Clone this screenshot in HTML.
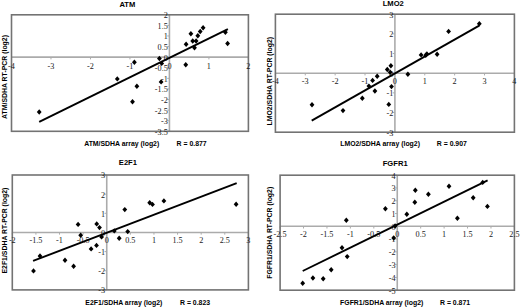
<!DOCTYPE html>
<html><head><meta charset="utf-8"><title>Scatter plots</title>
<style>
html,body{margin:0;padding:0;background:#fff;}
body{width:520px;height:307px;overflow:hidden;}
svg{display:block;}
.fr{fill:none;stroke:#737373;stroke-width:1.6;}
.ax{stroke:#ababab;stroke-width:1.6;}
.tk{stroke:#ababab;stroke-width:1;}
.rl{stroke:#000;stroke-width:1.9;stroke-linecap:butt;}
.tl{font-family:"Liberation Serif",serif;font-size:8.2px;fill:#1a1a1a;}
.tt{font-family:"Liberation Sans",sans-serif;font-weight:bold;font-size:7.6px;fill:#000;}
.at{font-family:"Liberation Sans",sans-serif;font-weight:bold;font-size:6.9px;fill:#000;}
path{fill:#000;}
</style></head>
<body><svg width="520" height="307" viewBox="0 0 520 307">
<line x1="11.50" y1="57.16" x2="248.40" y2="57.16" class="ax"/>
<line x1="169.43" y1="14.80" x2="169.43" y2="131.30" class="ax"/>
<line x1="11.50" y1="57.16" x2="11.50" y2="59.36" class="tk"/>
<line x1="50.98" y1="57.16" x2="50.98" y2="59.36" class="tk"/>
<line x1="90.47" y1="57.16" x2="90.47" y2="59.36" class="tk"/>
<line x1="129.95" y1="57.16" x2="129.95" y2="59.36" class="tk"/>
<line x1="169.43" y1="57.16" x2="169.43" y2="59.36" class="tk"/>
<line x1="208.92" y1="57.16" x2="208.92" y2="59.36" class="tk"/>
<line x1="248.40" y1="57.16" x2="248.40" y2="59.36" class="tk"/>
<line x1="167.23" y1="131.30" x2="169.43" y2="131.30" class="tk"/>
<line x1="167.23" y1="120.71" x2="169.43" y2="120.71" class="tk"/>
<line x1="167.23" y1="110.12" x2="169.43" y2="110.12" class="tk"/>
<line x1="167.23" y1="99.53" x2="169.43" y2="99.53" class="tk"/>
<line x1="167.23" y1="88.94" x2="169.43" y2="88.94" class="tk"/>
<line x1="167.23" y1="78.35" x2="169.43" y2="78.35" class="tk"/>
<line x1="167.23" y1="67.75" x2="169.43" y2="67.75" class="tk"/>
<line x1="167.23" y1="57.16" x2="169.43" y2="57.16" class="tk"/>
<line x1="167.23" y1="46.57" x2="169.43" y2="46.57" class="tk"/>
<line x1="167.23" y1="35.98" x2="169.43" y2="35.98" class="tk"/>
<line x1="167.23" y1="25.39" x2="169.43" y2="25.39" class="tk"/>
<line x1="167.23" y1="14.80" x2="169.43" y2="14.80" class="tk"/>
<rect x="11.50" y="14.80" width="236.90" height="116.50" class="fr"/>
<text x="11.50" y="69.26" class="tl" text-anchor="middle">-4</text>
<text x="50.98" y="69.26" class="tl" text-anchor="middle">-3</text>
<text x="90.47" y="69.26" class="tl" text-anchor="middle">-2</text>
<text x="129.95" y="69.26" class="tl" text-anchor="middle">-1</text>
<text x="169.43" y="69.26" class="tl" text-anchor="middle">0</text>
<text x="208.92" y="69.26" class="tl" text-anchor="middle">1</text>
<text x="248.40" y="69.26" class="tl" text-anchor="middle">2</text>
<text x="167.83" y="134.70" class="tl" text-anchor="end">-3.5</text>
<text x="167.83" y="124.11" class="tl" text-anchor="end">-3</text>
<text x="167.83" y="113.52" class="tl" text-anchor="end">-2.5</text>
<text x="167.83" y="102.93" class="tl" text-anchor="end">-2</text>
<text x="167.83" y="92.34" class="tl" text-anchor="end">-1.5</text>
<text x="167.83" y="81.75" class="tl" text-anchor="end">-1</text>
<text x="167.83" y="71.15" class="tl" text-anchor="end">-0.5</text>
<text x="167.83" y="60.56" class="tl" text-anchor="end">0</text>
<text x="167.83" y="49.97" class="tl" text-anchor="end">0.5</text>
<text x="167.83" y="39.38" class="tl" text-anchor="end">1</text>
<text x="167.83" y="28.79" class="tl" text-anchor="end">1.5</text>
<text x="167.83" y="18.20" class="tl" text-anchor="end">2</text>
<line x1="39.20" y1="121.80" x2="227.90" y2="29.10" class="rl"/>
<path d="M39.20 109.30L41.60 112.00L39.20 114.70L36.80 112.00Z"/>
<path d="M117.30 76.20L119.70 78.90L117.30 81.60L114.90 78.90Z"/>
<path d="M134.40 59.60L136.80 62.30L134.40 65.00L132.00 62.30Z"/>
<path d="M136.90 83.60L139.30 86.30L136.90 89.00L134.50 86.30Z"/>
<path d="M132.50 99.00L134.90 101.70L132.50 104.40L130.10 101.70Z"/>
<path d="M159.40 55.80L161.80 58.50L159.40 61.20L157.00 58.50Z"/>
<path d="M161.70 60.70L164.10 63.40L161.70 66.10L159.30 63.40Z"/>
<path d="M161.10 79.20L163.50 81.90L161.10 84.60L158.70 81.90Z"/>
<path d="M185.75 62.00L188.15 64.70L185.75 67.40L183.35 64.70Z"/>
<path d="M186.10 41.50L188.50 44.20L186.10 46.90L183.70 44.20Z"/>
<path d="M190.90 31.00L193.30 33.70L190.90 36.40L188.50 33.70Z"/>
<path d="M192.70 38.30L195.10 41.00L192.70 43.70L190.30 41.00Z"/>
<path d="M194.50 45.00L196.90 47.70L194.50 50.40L192.10 47.70Z"/>
<path d="M196.10 38.30L198.50 41.00L196.10 43.70L193.70 41.00Z"/>
<path d="M197.80 33.10L200.20 35.80L197.80 38.50L195.40 35.80Z"/>
<path d="M200.20 28.80L202.60 31.50L200.20 34.20L197.80 31.50Z"/>
<path d="M203.10 25.10L205.50 27.80L203.10 30.50L200.70 27.80Z"/>
<path d="M225.40 29.50L227.80 32.20L225.40 34.90L223.00 32.20Z"/>
<path d="M227.60 40.80L230.00 43.50L227.60 46.20L225.20 43.50Z"/>
<text x="127.40" y="6.60" class="tt" text-anchor="middle">ATM</text>
<text class="at" text-anchor="middle" transform="translate(4.60 77.00) rotate(-90)" y="2.4">ATM/SDHA RT-PCR (log2)</text>
<text x="84.20" y="145.80" class="at">ATM/SDHA array (log2)</text>
<text x="176.60" y="145.80" class="at">R = 0.877</text>
<line x1="275.40" y1="73.20" x2="514.40" y2="73.20" class="ax"/>
<line x1="394.90" y1="14.20" x2="394.90" y2="132.20" class="ax"/>
<line x1="275.40" y1="73.20" x2="275.40" y2="75.40" class="tk"/>
<line x1="305.27" y1="73.20" x2="305.27" y2="75.40" class="tk"/>
<line x1="335.15" y1="73.20" x2="335.15" y2="75.40" class="tk"/>
<line x1="365.02" y1="73.20" x2="365.02" y2="75.40" class="tk"/>
<line x1="394.90" y1="73.20" x2="394.90" y2="75.40" class="tk"/>
<line x1="424.77" y1="73.20" x2="424.77" y2="75.40" class="tk"/>
<line x1="454.65" y1="73.20" x2="454.65" y2="75.40" class="tk"/>
<line x1="484.52" y1="73.20" x2="484.52" y2="75.40" class="tk"/>
<line x1="514.40" y1="73.20" x2="514.40" y2="75.40" class="tk"/>
<line x1="392.70" y1="132.20" x2="394.90" y2="132.20" class="tk"/>
<line x1="392.70" y1="112.53" x2="394.90" y2="112.53" class="tk"/>
<line x1="392.70" y1="92.87" x2="394.90" y2="92.87" class="tk"/>
<line x1="392.70" y1="73.20" x2="394.90" y2="73.20" class="tk"/>
<line x1="392.70" y1="53.53" x2="394.90" y2="53.53" class="tk"/>
<line x1="392.70" y1="33.87" x2="394.90" y2="33.87" class="tk"/>
<line x1="392.70" y1="14.20" x2="394.90" y2="14.20" class="tk"/>
<rect x="275.40" y="14.20" width="239.00" height="118.00" class="fr"/>
<text x="275.40" y="83.80" class="tl" text-anchor="middle">-4</text>
<text x="305.27" y="83.80" class="tl" text-anchor="middle">-3</text>
<text x="335.15" y="83.80" class="tl" text-anchor="middle">-2</text>
<text x="365.02" y="83.80" class="tl" text-anchor="middle">-1</text>
<text x="394.90" y="83.80" class="tl" text-anchor="middle">0</text>
<text x="424.77" y="83.80" class="tl" text-anchor="middle">1</text>
<text x="454.65" y="83.80" class="tl" text-anchor="middle">2</text>
<text x="484.52" y="83.80" class="tl" text-anchor="middle">3</text>
<text x="514.40" y="83.80" class="tl" text-anchor="middle">4</text>
<text x="393.30" y="135.60" class="tl" text-anchor="end">-3</text>
<text x="393.30" y="115.93" class="tl" text-anchor="end">-2</text>
<text x="393.30" y="96.27" class="tl" text-anchor="end">-1</text>
<text x="393.30" y="76.60" class="tl" text-anchor="end">0</text>
<text x="393.30" y="56.93" class="tl" text-anchor="end">1</text>
<text x="393.30" y="37.27" class="tl" text-anchor="end">2</text>
<text x="393.30" y="17.60" class="tl" text-anchor="end">3</text>
<line x1="311.70" y1="120.60" x2="479.20" y2="25.60" class="rl"/>
<path d="M312.00 102.00L314.40 104.70L312.00 107.40L309.60 104.70Z"/>
<path d="M343.00 107.90L345.40 110.60L343.00 113.30L340.60 110.60Z"/>
<path d="M362.30 95.60L364.70 98.30L362.30 101.00L359.90 98.30Z"/>
<path d="M368.90 83.40L371.30 86.10L368.90 88.80L366.50 86.10Z"/>
<path d="M372.60 77.70L375.00 80.40L372.60 83.10L370.20 80.40Z"/>
<path d="M374.90 88.30L377.30 91.00L374.90 93.70L372.50 91.00Z"/>
<path d="M377.20 73.60L379.60 76.30L377.20 79.00L374.80 76.30Z"/>
<path d="M387.30 66.80L389.70 69.50L387.30 72.20L384.90 69.50Z"/>
<path d="M390.20 69.60L392.60 72.30L390.20 75.00L387.80 72.30Z"/>
<path d="M390.90 63.00L393.30 65.70L390.90 68.40L388.50 65.70Z"/>
<path d="M391.50 83.90L393.90 86.60L391.50 89.30L389.10 86.60Z"/>
<path d="M388.80 101.70L391.20 104.40L388.80 107.10L386.40 104.40Z"/>
<path d="M407.90 71.60L410.30 74.30L407.90 77.00L405.50 74.30Z"/>
<path d="M421.10 52.20L423.50 54.90L421.10 57.60L418.70 54.90Z"/>
<path d="M425.75 52.50L428.15 55.20L425.75 57.90L423.35 55.20Z"/>
<path d="M426.90 51.20L429.30 53.90L426.90 56.60L424.50 53.90Z"/>
<path d="M437.10 51.60L439.50 54.30L437.10 57.00L434.70 54.30Z"/>
<path d="M448.60 28.70L451.00 31.40L448.60 34.10L446.20 31.40Z"/>
<path d="M479.30 21.10L481.70 23.80L479.30 26.50L476.90 23.80Z"/>
<text x="393.30" y="6.20" class="tt" text-anchor="middle">LMO2</text>
<text class="at" text-anchor="middle" transform="translate(269.20 81.20) rotate(-90)" y="2.4">LMO2/SDHA RT-PCR (log2)</text>
<text x="340.20" y="146.20" class="at">LMO2/SDHA array (log2)</text>
<text x="436.80" y="146.20" class="at">R = 0.907</text>
<line x1="12.30" y1="232.45" x2="248.40" y2="232.45" class="ax"/>
<line x1="106.74" y1="175.00" x2="106.74" y2="289.90" class="ax"/>
<line x1="12.30" y1="232.45" x2="12.30" y2="234.65" class="tk"/>
<line x1="35.91" y1="232.45" x2="35.91" y2="234.65" class="tk"/>
<line x1="59.52" y1="232.45" x2="59.52" y2="234.65" class="tk"/>
<line x1="83.13" y1="232.45" x2="83.13" y2="234.65" class="tk"/>
<line x1="106.74" y1="232.45" x2="106.74" y2="234.65" class="tk"/>
<line x1="130.35" y1="232.45" x2="130.35" y2="234.65" class="tk"/>
<line x1="153.96" y1="232.45" x2="153.96" y2="234.65" class="tk"/>
<line x1="177.57" y1="232.45" x2="177.57" y2="234.65" class="tk"/>
<line x1="201.18" y1="232.45" x2="201.18" y2="234.65" class="tk"/>
<line x1="224.79" y1="232.45" x2="224.79" y2="234.65" class="tk"/>
<line x1="248.40" y1="232.45" x2="248.40" y2="234.65" class="tk"/>
<line x1="104.54" y1="289.90" x2="106.74" y2="289.90" class="tk"/>
<line x1="104.54" y1="270.75" x2="106.74" y2="270.75" class="tk"/>
<line x1="104.54" y1="251.60" x2="106.74" y2="251.60" class="tk"/>
<line x1="104.54" y1="232.45" x2="106.74" y2="232.45" class="tk"/>
<line x1="104.54" y1="213.30" x2="106.74" y2="213.30" class="tk"/>
<line x1="104.54" y1="194.15" x2="106.74" y2="194.15" class="tk"/>
<line x1="104.54" y1="175.00" x2="106.74" y2="175.00" class="tk"/>
<rect x="12.30" y="175.00" width="236.10" height="114.90" class="fr"/>
<text x="12.30" y="243.45" class="tl" text-anchor="middle">-2</text>
<text x="35.91" y="243.45" class="tl" text-anchor="middle">-1.5</text>
<text x="59.52" y="243.45" class="tl" text-anchor="middle">-1</text>
<text x="83.13" y="243.45" class="tl" text-anchor="middle">-0.5</text>
<text x="106.74" y="243.45" class="tl" text-anchor="middle">0</text>
<text x="130.35" y="243.45" class="tl" text-anchor="middle">0.5</text>
<text x="153.96" y="243.45" class="tl" text-anchor="middle">1</text>
<text x="177.57" y="243.45" class="tl" text-anchor="middle">1.5</text>
<text x="201.18" y="243.45" class="tl" text-anchor="middle">2</text>
<text x="224.79" y="243.45" class="tl" text-anchor="middle">2.5</text>
<text x="248.40" y="243.45" class="tl" text-anchor="middle">3</text>
<text x="105.14" y="293.30" class="tl" text-anchor="end">-3</text>
<text x="105.14" y="274.15" class="tl" text-anchor="end">-2</text>
<text x="105.14" y="255.00" class="tl" text-anchor="end">-1</text>
<text x="105.14" y="235.85" class="tl" text-anchor="end">0</text>
<text x="105.14" y="216.70" class="tl" text-anchor="end">1</text>
<text x="105.14" y="197.55" class="tl" text-anchor="end">2</text>
<text x="105.14" y="178.40" class="tl" text-anchor="end">3</text>
<line x1="33.10" y1="260.90" x2="236.70" y2="183.10" class="rl"/>
<path d="M33.50 268.20L35.90 270.90L33.50 273.60L31.10 270.90Z"/>
<path d="M40.00 253.30L42.40 256.00L40.00 258.70L37.60 256.00Z"/>
<path d="M65.00 257.50L67.40 260.20L65.00 262.90L62.60 260.20Z"/>
<path d="M73.60 263.60L76.00 266.30L73.60 269.00L71.20 266.30Z"/>
<path d="M78.10 221.70L80.50 224.40L78.10 227.10L75.70 224.40Z"/>
<path d="M80.70 232.50L83.10 235.20L80.70 237.90L78.30 235.20Z"/>
<path d="M91.10 246.20L93.50 248.90L91.10 251.60L88.70 248.90Z"/>
<path d="M96.50 242.70L98.90 245.40L96.50 248.10L94.10 245.40Z"/>
<path d="M96.70 221.20L99.10 223.90L96.70 226.60L94.30 223.90Z"/>
<path d="M99.50 224.90L101.90 227.60L99.50 230.30L97.10 227.60Z"/>
<path d="M101.60 234.20L104.00 236.90L101.60 239.60L99.20 236.90Z"/>
<path d="M114.30 228.20L116.70 230.90L114.30 233.60L111.90 230.90Z"/>
<path d="M119.20 235.50L121.60 238.20L119.20 240.90L116.80 238.20Z"/>
<path d="M124.80 206.90L127.20 209.60L124.80 212.30L122.40 209.60Z"/>
<path d="M127.70 228.90L130.10 231.60L127.70 234.30L125.30 231.60Z"/>
<path d="M149.70 200.00L152.10 202.70L149.70 205.40L147.30 202.70Z"/>
<path d="M152.50 201.70L154.90 204.40L152.50 207.10L150.10 204.40Z"/>
<path d="M163.90 198.20L166.30 200.90L163.90 203.60L161.50 200.90Z"/>
<path d="M236.10 201.60L238.50 204.30L236.10 207.00L233.70 204.30Z"/>
<text x="127.90" y="165.40" class="tt" text-anchor="middle">E2F1</text>
<text class="at" text-anchor="middle" transform="translate(4.40 230.60) rotate(-90)" y="2.4">E2F1/SDHA RT-PCR (log2)</text>
<text x="85.30" y="304.70" class="at">E2F1/SDHA array (log2)</text>
<text x="180.00" y="304.70" class="at">R = 0.823</text>
<line x1="280.10" y1="226.31" x2="514.40" y2="226.31" class="ax"/>
<line x1="397.25" y1="175.20" x2="397.25" y2="290.20" class="ax"/>
<line x1="280.10" y1="226.31" x2="280.10" y2="228.51" class="tk"/>
<line x1="303.53" y1="226.31" x2="303.53" y2="228.51" class="tk"/>
<line x1="326.96" y1="226.31" x2="326.96" y2="228.51" class="tk"/>
<line x1="350.39" y1="226.31" x2="350.39" y2="228.51" class="tk"/>
<line x1="373.82" y1="226.31" x2="373.82" y2="228.51" class="tk"/>
<line x1="397.25" y1="226.31" x2="397.25" y2="228.51" class="tk"/>
<line x1="420.68" y1="226.31" x2="420.68" y2="228.51" class="tk"/>
<line x1="444.11" y1="226.31" x2="444.11" y2="228.51" class="tk"/>
<line x1="467.54" y1="226.31" x2="467.54" y2="228.51" class="tk"/>
<line x1="490.97" y1="226.31" x2="490.97" y2="228.51" class="tk"/>
<line x1="514.40" y1="226.31" x2="514.40" y2="228.51" class="tk"/>
<line x1="395.05" y1="290.20" x2="397.25" y2="290.20" class="tk"/>
<line x1="395.05" y1="277.42" x2="397.25" y2="277.42" class="tk"/>
<line x1="395.05" y1="264.64" x2="397.25" y2="264.64" class="tk"/>
<line x1="395.05" y1="251.87" x2="397.25" y2="251.87" class="tk"/>
<line x1="395.05" y1="239.09" x2="397.25" y2="239.09" class="tk"/>
<line x1="395.05" y1="226.31" x2="397.25" y2="226.31" class="tk"/>
<line x1="395.05" y1="213.53" x2="397.25" y2="213.53" class="tk"/>
<line x1="395.05" y1="200.76" x2="397.25" y2="200.76" class="tk"/>
<line x1="395.05" y1="187.98" x2="397.25" y2="187.98" class="tk"/>
<line x1="395.05" y1="175.20" x2="397.25" y2="175.20" class="tk"/>
<rect x="280.10" y="175.20" width="234.30" height="115.00" class="fr"/>
<text x="280.10" y="236.81" class="tl" text-anchor="middle">-2.5</text>
<text x="303.53" y="236.81" class="tl" text-anchor="middle">-2</text>
<text x="326.96" y="236.81" class="tl" text-anchor="middle">-1.5</text>
<text x="350.39" y="236.81" class="tl" text-anchor="middle">-1</text>
<text x="373.82" y="236.81" class="tl" text-anchor="middle">-0.5</text>
<text x="397.25" y="236.81" class="tl" text-anchor="middle">0</text>
<text x="420.68" y="236.81" class="tl" text-anchor="middle">0.5</text>
<text x="444.11" y="236.81" class="tl" text-anchor="middle">1</text>
<text x="467.54" y="236.81" class="tl" text-anchor="middle">1.5</text>
<text x="490.97" y="236.81" class="tl" text-anchor="middle">2</text>
<text x="514.40" y="236.81" class="tl" text-anchor="middle">2.5</text>
<text x="395.65" y="293.60" class="tl" text-anchor="end">-5</text>
<text x="395.65" y="280.82" class="tl" text-anchor="end">-4</text>
<text x="395.65" y="268.04" class="tl" text-anchor="end">-3</text>
<text x="395.65" y="255.27" class="tl" text-anchor="end">-2</text>
<text x="395.65" y="242.49" class="tl" text-anchor="end">-1</text>
<text x="395.65" y="229.71" class="tl" text-anchor="end">0</text>
<text x="395.65" y="216.93" class="tl" text-anchor="end">1</text>
<text x="395.65" y="204.16" class="tl" text-anchor="end">2</text>
<text x="395.65" y="191.38" class="tl" text-anchor="end">3</text>
<text x="395.65" y="178.60" class="tl" text-anchor="end">4</text>
<line x1="302.70" y1="271.00" x2="487.60" y2="180.40" class="rl"/>
<path d="M302.70 280.50L305.10 283.20L302.70 285.90L300.30 283.20Z"/>
<path d="M312.90 275.30L315.30 278.00L312.90 280.70L310.50 278.00Z"/>
<path d="M323.20 276.00L325.60 278.70L323.20 281.40L320.80 278.70Z"/>
<path d="M331.20 267.00L333.60 269.70L331.20 272.40L328.80 269.70Z"/>
<path d="M342.00 245.10L344.40 247.80L342.00 250.50L339.60 247.80Z"/>
<path d="M347.20 253.90L349.60 256.60L347.20 259.30L344.80 256.60Z"/>
<path d="M346.30 217.60L348.70 220.30L346.30 223.00L343.90 220.30Z"/>
<path d="M385.40 206.00L387.80 208.70L385.40 211.40L383.00 208.70Z"/>
<path d="M395.10 223.30L397.50 226.00L395.10 228.70L392.70 226.00Z"/>
<path d="M393.70 235.30L396.10 238.00L393.70 240.70L391.30 238.00Z"/>
<path d="M406.80 211.50L409.20 214.20L406.80 216.90L404.40 214.20Z"/>
<path d="M415.30 187.60L417.70 190.30L415.30 193.00L412.90 190.30Z"/>
<path d="M414.80 199.50L417.20 202.20L414.80 204.90L412.40 202.20Z"/>
<path d="M428.40 191.60L430.80 194.30L428.40 197.00L426.00 194.30Z"/>
<path d="M449.00 183.50L451.40 186.20L449.00 188.90L446.60 186.20Z"/>
<path d="M457.40 215.50L459.80 218.20L457.40 220.90L455.00 218.20Z"/>
<path d="M473.20 195.10L475.60 197.80L473.20 200.50L470.80 197.80Z"/>
<path d="M482.70 179.70L485.10 182.40L482.70 185.10L480.30 182.40Z"/>
<path d="M487.40 203.70L489.80 206.40L487.40 209.10L485.00 206.40Z"/>
<text x="395.20" y="166.30" class="tt" text-anchor="middle">FGFR1</text>
<text class="at" text-anchor="middle" transform="translate(269.60 232.80) rotate(-90)" y="2.4">FGFR1/SDHA RT-PCR (log2)</text>
<text x="340.10" y="304.70" class="at">FGFR1/SDHA array (log2)</text>
<text x="440.00" y="304.70" class="at">R = 0.871</text>
</svg></body></html>
